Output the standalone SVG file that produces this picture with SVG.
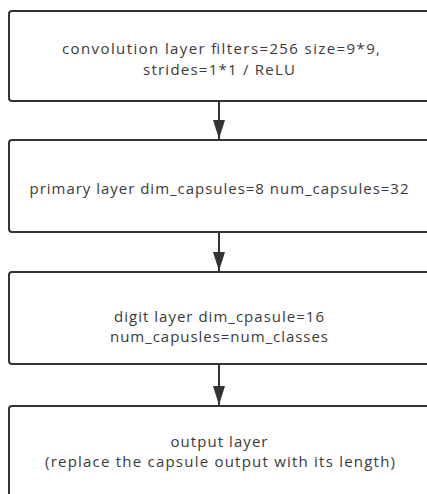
<svg xmlns="http://www.w3.org/2000/svg" width="427" height="494" viewBox="0 0 427 494">
<defs>
<marker id="ah" markerWidth="19" markerHeight="12" refX="19" refY="6" orient="auto" markerUnits="userSpaceOnUse" viewBox="0 0 19 12">
<path d="M0,0 L19,6 L0,12 Z" fill="#333"/>
</marker>
</defs>
<style>
.box{fill:#fff;stroke:#333;stroke-width:2}
.t{font-family:"Open Sans","Noto Sans",sans-serif;font-size:15px;fill:#3a3a3a;text-anchor:middle}
.c{stroke:#333;stroke-width:2;fill:none}
</style>
<rect width="427" height="494" fill="#fff"/>
<g id="connectors">
<line class="c" x1="219" y1="101" x2="219" y2="139" marker-end="url(#ah)"/>
<line class="c" x1="219" y1="232" x2="219" y2="271" marker-end="url(#ah)"/>
<line class="c" x1="219" y1="364" x2="219" y2="405" marker-end="url(#ah)"/>
</g>
<g id="n1">
<rect class="box" x="9" y="11" width="424" height="90" rx="3"/>
<text class="t" x="221" y="54" textLength="318" lengthAdjust="spacing">convolution layer filters=256 size=9*9,</text>
<text class="t" x="219" y="75" textLength="152" lengthAdjust="spacing">strides=1*1 / ReLU</text>
</g>
<g id="n2">
<rect class="box" x="9" y="140" width="424" height="92" rx="3"/>
<text class="t" x="219" y="194" textLength="379" lengthAdjust="spacing">primary layer dim_capsules=8 num_capsules=32</text>
</g>
<g id="n3">
<rect class="box" x="9" y="272" width="424" height="92" rx="3"/>
<text class="t" x="219" y="322" textLength="210" lengthAdjust="spacing">digit layer dim_cpasule=16</text>
<text class="t" x="219" y="342" textLength="218" lengthAdjust="spacing">num_capusles=num_classes</text>
</g>
<g id="n4">
<rect class="box" x="9" y="406" width="424" height="100" rx="3"/>
<text class="t" x="219" y="447" textLength="97" lengthAdjust="spacing">output layer</text>
<text class="t" x="220" y="467" textLength="350" lengthAdjust="spacing">(replace the capsule output with its length)</text>
</g>
</svg>
